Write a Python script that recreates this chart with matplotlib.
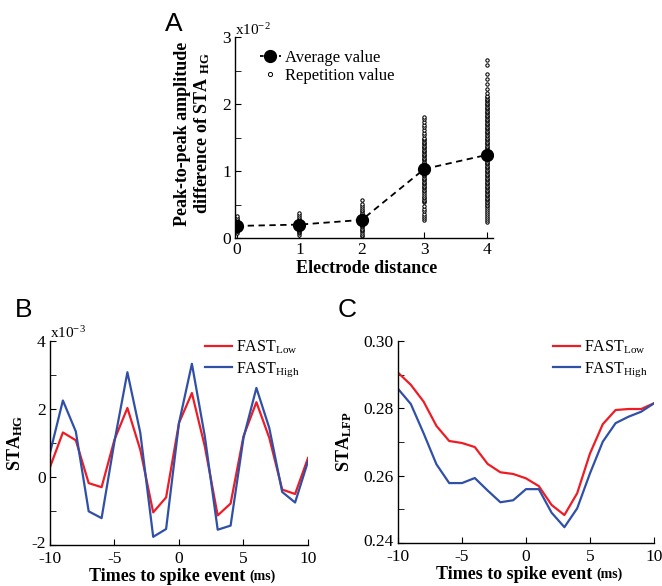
import matplotlib
matplotlib.use('Agg')
import matplotlib.pyplot as plt
import matplotlib.transforms as mtrans
from matplotlib.lines import Line2D

# ---------------- data ----------------
# Panel A (values in units of 1e-2)
distances = [0, 1, 2, 3, 4]
average_values = [0.18, 0.20, 0.27, 1.03, 1.24]
rep_d0 = [0.08, 0.10, 0.11, 0.12, 0.13, 0.14, 0.15, 0.16, 0.17, 0.18, 0.19, 0.20,
          0.21, 0.22, 0.23, 0.24, 0.25, 0.26, 0.28, 0.30, 0.33]
rep_d1 = [0.05, 0.07, 0.09, 0.11, 0.12, 0.14, 0.15, 0.16, 0.17, 0.18, 0.19, 0.20,
          0.21, 0.22, 0.23, 0.24, 0.25, 0.27, 0.29, 0.31, 0.34, 0.37]
rep_d2 = [0.03, 0.05, 0.08, 0.10, 0.12, 0.14, 0.16, 0.18, 0.20, 0.22, 0.24, 0.26,
          0.28, 0.30, 0.32, 0.34, 0.36, 0.38, 0.40, 0.42, 0.45, 0.48, 0.51, 0.56]
rep_d3 = [0.27, 0.30, 0.33, 0.36, 0.40, 0.44, 0.48, 0.53, 0.55, 0.57, 0.59, 0.61,
          0.64, 0.67, 0.70, 0.72, 0.74, 0.76, 0.78, 0.80, 0.82, 0.84, 0.86, 0.88,
          0.90, 0.92, 0.94, 0.96, 0.98, 1.00, 1.02, 1.04, 1.06, 1.08, 1.10, 1.12,
          1.14, 1.16, 1.18, 1.20, 1.22, 1.24, 1.26, 1.28, 1.30, 1.32, 1.34, 1.36,
          1.38, 1.40, 1.42, 1.44, 1.46, 1.48, 1.50, 1.53, 1.57, 1.61, 1.65, 1.69,
          1.73, 1.77, 1.80]
rep_d4 = [0.24, 0.27, 0.30, 0.33, 0.36, 0.39, 0.42, 0.45, 0.48, 0.50, 0.52, 0.54,
          0.56, 0.58, 0.60, 0.62, 0.64, 0.66, 0.68, 0.70, 0.72, 0.74, 0.76, 0.78,
          0.80, 0.82, 0.84, 0.86, 0.88, 0.90, 0.92, 0.94, 0.96, 0.98, 1.00, 1.02,
          1.04, 1.06, 1.08, 1.10, 1.12, 1.14, 1.16, 1.18, 1.20, 1.22, 1.24, 1.26,
          1.28, 1.30, 1.32, 1.34, 1.36, 1.38, 1.40, 1.42, 1.44, 1.46, 1.48, 1.50,
          1.52, 1.54, 1.56, 1.58, 1.60, 1.62, 1.64, 1.66, 1.68, 1.70, 1.72, 1.74,
          1.76, 1.78, 1.80, 1.82, 1.84, 1.86, 1.88, 1.90, 1.92, 1.94, 1.96, 1.98,
          2.00, 2.02, 2.04, 2.06, 2.08, 2.10, 2.12, 2.17, 2.22, 2.30, 2.38, 2.45,
          2.58, 2.65]
repetition_values = [rep_d0, rep_d1, rep_d2, rep_d3, rep_d4]

# Panels B, C
time_ms = list(range(-10, 11))
hg_low = [0.29, 1.31, 1.08, -0.18, -0.30, 1.10, 2.03, 0.80, -1.04, -0.60, 1.59,
          2.47, 0.90, -1.13, -0.78, 1.20, 2.20, 1.15, -0.37, -0.50, 0.56]
hg_high = [0.71, 2.25, 1.34, -1.01, -1.21, 1.05, 3.08, 1.30, -1.76, -1.53, 1.59,
           3.33, 1.20, -1.55, -1.43, 1.15, 2.62, 1.44, -0.44, -0.75, 0.46]
lfp_low = [0.2906, 0.2870, 0.2820, 0.2748, 0.2703, 0.2697, 0.2685, 0.2635, 0.2610,
           0.2605, 0.2592, 0.2569, 0.2513, 0.2483, 0.2548, 0.2666, 0.2753, 0.2795,
           0.2798, 0.2798, 0.2815]
lfp_high = [0.2858, 0.2813, 0.2726, 0.2634, 0.2578, 0.2578, 0.2593, 0.2556, 0.2521,
            0.2527, 0.2560, 0.2560, 0.2490, 0.2447, 0.2503, 0.2607, 0.2701, 0.2756,
            0.2775, 0.2790, 0.2815]

legend_labels = [r'FAST$_{\mathrm{Low}}$', r'FAST$_{\mathrm{High}}$']

# ---------------- style ----------------
plt.rcParams.update({
    'font.family': ['Liberation Serif', 'DejaVu Serif'],
    'mathtext.fontset': 'custom',
    'mathtext.rm': 'Liberation Serif',
    'mathtext.it': 'Liberation Serif:italic',
    'mathtext.bf': 'Liberation Serif:bold',
    'axes.unicode_minus': False,
    'xtick.direction': 'in',
    'ytick.direction': 'in',
    'axes.linewidth': 1.0,
    'xtick.major.size': 4, 'ytick.major.size': 4,
    'xtick.minor.size': 4, 'ytick.minor.size': 4,
    'xtick.labelsize': 12.5, 'ytick.labelsize': 12.5,
})

RED = '#ee1c25'
BLUE = '#3050a8'
W, H = 662, 586

fig = plt.figure(figsize=(W / 100, H / 100), dpi=100)


def pos(l, t, r, b):
    return [l / W, 1 - b / H, (r - l) / W, (b - t) / H]


axA = fig.add_axes(pos(235, 37, 493, 238))
axB = fig.add_axes(pos(50, 341, 308, 545))
axC = fig.add_axes(pos(398, 341, 654, 543))

for ax in (axA, axB, axC):
    ax.spines['top'].set_visible(False)
    ax.spines['right'].set_visible(False)
    ax.tick_params(which='both', pad=3)

# ---- Panel A ----
for d, vals in zip(distances, repetition_values):
    axA.plot([d] * len(vals), vals, ls='none', marker='o', mfc='white',
             mec='black', ms=2.4, mew=0.75, zorder=2)
axA.plot(distances, average_values, color='black', ls='--', dashes=(3.5, 2.5),
         lw=1.3, marker='o', ms=8.5, zorder=3)
axA.set_xlim(-0.03, 4.1)
axA.set_ylim(0, 3)
axA.set_xticks(distances)
axA.set_yticks([0, 1, 2, 3])
axA.set_yticks([0.5, 1.5, 2.5], minor=True)
axA.set_xlabel('Electrode distance', fontsize=13, fontweight='bold', labelpad=0)
axA.xaxis.set_label_coords(0.51, -0.11)
axA.set_ylabel('Peak-to-peak amplitude\ndifference of STA $_{\\mathbf{HG}}$',
               fontsize=13, fontweight='bold', linespacing=1.05)
axA.yaxis.set_label_coords(-0.09, 0.52)
axA.text(0.0, 1.035, r'x10$^{-2}$', transform=axA.transAxes, fontsize=11,
         ha='left', va='center')
hA = [Line2D([], [], color='black', ls='--', dashes=(2, 1.5), lw=1.3, marker='o', ms=8.5),
      Line2D([], [], ls='none', marker='o', mfc='white', mec='black', ms=3, mew=0.7)]
axA.legend(hA, ['Average value', 'Repetition value'], loc='upper left',
           bbox_to_anchor=(0.095, 0.935), frameon=False, fontsize=12,
           handlelength=1.3, handletextpad=0.25, borderpad=0, borderaxespad=0,
           labelspacing=0.12)
fig.text(165 / W, 1 - 24 / H, 'A', fontsize=19, family='Liberation Sans',
         ha='left', va='center')

# ---- Panel B ----
axB.plot(time_ms, hg_low, color=RED, lw=1.6)
axB.plot(time_ms, hg_high, color=BLUE, lw=1.6)
axB.set_xlim(-10, 10)
axB.set_ylim(-2, 4)
axB.set_xticks([-10, -5, 0, 5, 10])
axB.set_yticks([-2, 0, 2, 4])
axB.set_yticks([-1, 1, 3], minor=True)
axB.text(0.0, 1.04, r'x10$^{-3}$', transform=axB.transAxes, fontsize=11,
         ha='left', va='center')
axB.set_ylabel(r'STA$_{\mathbf{HG}}$', fontsize=13, fontweight='bold')
axB.yaxis.set_label_coords(-0.097, 0.5)
axB.legend(axB.lines, legend_labels, loc='upper left', bbox_to_anchor=(0.6, 1.01),
           frameon=False, fontsize=11.5, handlelength=1.7, handletextpad=0.25,
           borderpad=0, borderaxespad=0, labelspacing=0.25)
fig.text(15 / W, 1 - 310 / H, 'B', fontsize=19, family='Liberation Sans',
         ha='left', va='center')

# ---- Panel C ----
axC.plot(time_ms, lfp_low, color=RED, lw=1.6)
axC.plot(time_ms, lfp_high, color=BLUE, lw=1.6)
axC.set_xlim(-10, 10)
axC.set_ylim(0.24, 0.30)
axC.set_xticks([-10, -5, 0, 5, 10])
axC.set_yticks([0.24, 0.26, 0.28, 0.30])
axC.set_yticklabels(['0.24', '0.26', '0.28', '0.30'])
axC.set_yticks([0.25, 0.27, 0.29], minor=True)
axC.set_ylabel(r'STA$_{\mathbf{LFP}}$', fontsize=13, fontweight='bold')
axC.yaxis.set_label_coords(-0.17, 0.5)
axC.legend(axC.lines, legend_labels, loc='upper left', bbox_to_anchor=(0.605, 1.01),
           frameon=False, fontsize=11.5, handlelength=1.7, handletextpad=0.25,
           borderpad=0, borderaxespad=0, labelspacing=0.25)
fig.text(338 / W, 1 - 310 / H, 'C', fontsize=19, family='Liberation Sans',
         ha='left', va='center')

# x tick labels slightly lower, bottom y tick label slightly higher (as in reference)
for ax in (axB, axC):
    ax.tick_params(axis='x', which='both', pad=4.5)
    ylabels = ax.get_yticklabels()
    shift = mtrans.ScaledTranslation(0, 3 / 100, fig.dpi_scale_trans)
    ylabels[0].set_transform(ylabels[0].get_transform() + shift)

# x labels with smaller "(ms)"
for ax in (axB, axC):
    ax.set_xlabel('Times to spike event', fontsize=13, fontweight='bold')
    ax.xaxis.set_label_coords(0.455, -0.115)
    ax.annotate('(ms)', xy=(1, 0.12), xycoords=ax.xaxis.label, xytext=(3, 0),
                textcoords='offset points', ha='left', va='bottom',
                fontsize=10, fontweight='bold')

fig.savefig('out.png', dpi=100)
